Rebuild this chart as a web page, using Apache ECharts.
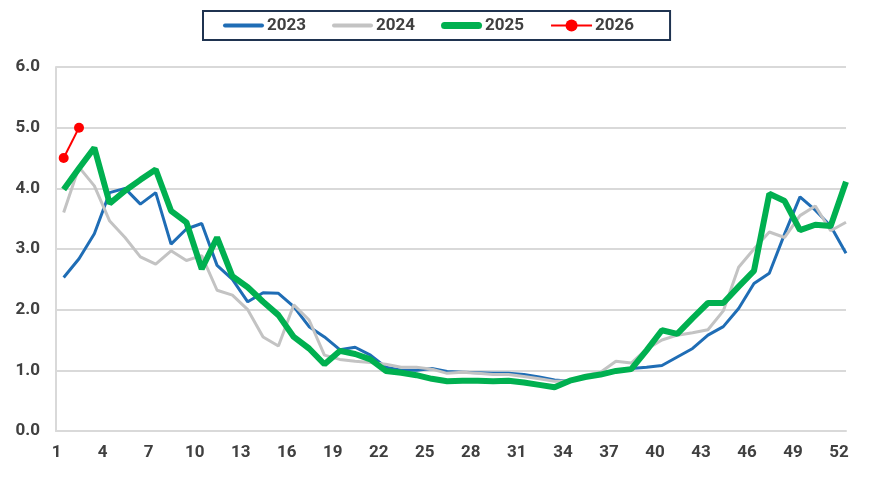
<!DOCTYPE html>
<html>
<head>
<meta charset="utf-8">
<script src="https://cdn.jsdelivr.net/npm/echarts@6/dist/echarts.min.js"></script>
<style>
html,body{margin:0;padding:0;background:#fff;}
#chart{width:879px;height:477px;}
</style>
</head>
<body>
<div id="chart"></div>
<script>
const weeks = Array.from({length: 52}, (_, i) => i + 1);
const xTickLabels = [1, 4, 7, 10, 13, 16, 19, 22, 25, 28, 31, 34, 37, 40, 43, 46, 49, 52];
const seriesNames = ['2023', '2024', '2025', '2026'];

const values2023 = [2.53, 2.84, 3.25, 3.93, 4.00, 3.74, 3.93, 3.08, 3.33, 3.42,
  2.73, 2.50, 2.13, 2.28, 2.27, 2.05, 1.72, 1.55, 1.34, 1.38,
  1.25, 1.05, 1.00, 1.00, 1.03, 0.98, 0.97, 0.96, 0.95, 0.95,
  0.93, 0.89, 0.84, 0.82, 0.89, 0.95, 1.00, 1.03, 1.05, 1.08,
  1.22, 1.36, 1.58, 1.72, 2.02, 2.43, 2.60, 3.25, 3.86, 3.64, 3.38, 2.93];
const values2024 = [3.60, 4.35, 4.04, 3.46, 3.19, 2.87, 2.75, 2.97, 2.81, 2.89,
  2.32, 2.24, 2.00, 1.55, 1.40, 2.08, 1.83, 1.25, 1.18, 1.15,
  1.13, 1.10, 1.05, 1.05, 1.02, 0.95, 0.97, 0.95, 0.93, 0.93,
  0.90, 0.86, 0.82, 0.83, 0.92, 0.97, 1.15, 1.12, 1.35, 1.50,
  1.58, 1.62, 1.67, 1.98, 2.70, 3.00, 3.28, 3.19, 3.55, 3.71, 3.30, 3.44];
const values2025 = [3.98, 4.33, 4.67, 3.75, 3.96, 4.14, 4.31, 3.63, 3.44, 2.67,
  3.19, 2.55, 2.37, 2.13, 1.91, 1.55, 1.36, 1.10, 1.32, 1.27,
  1.18, 0.99, 0.96, 0.92, 0.86, 0.82, 0.83, 0.83, 0.82, 0.83,
  0.80, 0.76, 0.72, 0.83, 0.89, 0.93, 0.99, 1.02, 1.33, 1.66,
  1.60, 1.86, 2.11, 2.11, 2.38, 2.64, 3.91, 3.79, 3.31, 3.40, 3.38, 4.11];
const values2026 = [4.50, 5.00];

const pair = (vals) => vals.map((v, i) => [weeks[i], v]);

const chart = echarts.init(document.getElementById('chart'), null, {renderer: 'canvas'});
const txt = '#404040';
const gridColor = '#d9d9d9';
const thinIcon = 'path://M2,0L39,0A2,2,0,0,1,39,4L2,4A2,2,0,0,1,2,0Z';
const thickIcon = 'path://M3.5,0L37.5,0A3.5,3.5,0,0,1,37.5,7L3.5,7A3.5,3.5,0,0,1,3.5,0Z';

chart.setOption({
  animation: false,
  backgroundColor: '#ffffff',
  textStyle: {fontFamily: 'Roboto'},
  legend: {
    data: [
      {name: seriesNames[0], icon: thinIcon},
      {name: seriesNames[1], icon: thinIcon},
      {name: seriesNames[2], icon: thickIcon},
      {name: seriesNames[3]}
    ],
    left: 203,
    top: 11,
    padding: [6, 36, 6, 20],
    itemGap: 26,
    itemWidth: 41,
    itemHeight: 15,
    borderColor: '#1f3350',
    borderWidth: 2,
    borderRadius: 0,
    textStyle: {fontFamily: 'Roboto', fontWeight: 'bold', fontSize: 17, color: txt, padding: [0, 0, 0, -2]}
  },
  grid: {left: 56, right: 33, top: 67, bottom: 46, containLabel: false},
  xAxis: {
    type: 'value',
    min: 0.5,
    max: 52,
    axisLine: {show: true, onZero: false, lineStyle: {color: gridColor, width: 2}},
    axisTick: {show: false},
    splitLine: {show: false},
    axisLabel: {
      customValues: xTickLabels,
      formatter: (v) => String(v),
      fontFamily: 'Roboto', fontWeight: 'bold', fontSize: 17, color: txt,
      margin: 13,
      padding: [0, 14, 0, 0]
    }
  },
  yAxis: {
    type: 'value',
    min: 0,
    max: 6,
    interval: 1,
    axisLine: {show: true, onZero: false, lineStyle: {color: gridColor, width: 2}},
    axisTick: {show: false},
    splitLine: {show: true, lineStyle: {color: gridColor, width: 2}},
    axisLabel: {
      formatter: (v) => v.toFixed(1),
      fontFamily: 'Roboto', fontWeight: 'bold', fontSize: 17, color: txt,
      margin: 16
    }
  },
  series: [
    {name: '2023', type: 'line', data: pair(values2023), showSymbol: false, symbol: 'none',
     lineStyle: {color: '#1f6db5', width: 3}, itemStyle: {color: '#1f6db5'}},
    {name: '2024', type: 'line', data: pair(values2024), showSymbol: false, symbol: 'none',
     lineStyle: {color: '#c3c3c3', width: 3}, itemStyle: {color: '#c3c3c3'}},
    {name: '2025', type: 'line', data: pair(values2025), showSymbol: false, symbol: 'none',
     lineStyle: {color: '#00b050', width: 6}, itemStyle: {color: '#00b050'}},
    {name: '2026', type: 'line', data: pair(values2026), symbol: 'circle', symbolSize: 10, showSymbol: true,
     lineStyle: {color: '#ff0000', width: 2}, itemStyle: {color: '#ff0000'}}
  ]
});
</script>
</body>
</html>
